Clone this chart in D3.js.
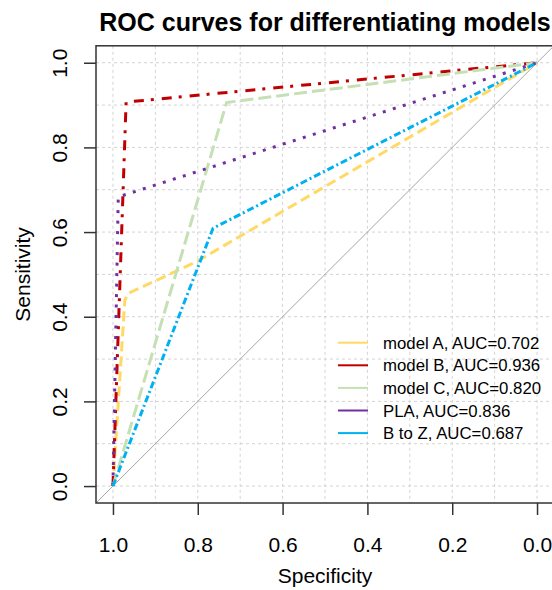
<!DOCTYPE html>
<html>
  <head>
    <script src="https://d3js.org/d3.v7.min.js"></script>
    <style>
      body { margin: 0; background: #fff; }
      text { font-family: "Liberation Sans", Arial, sans-serif; fill: #000; }
    </style>
  </head>
  <body>
    <div id="chart"></div>
    <script>
      // model names, AUCs and colours as printed in the legend
      const models = ['model A', 'model B', 'model C', 'PLA', 'B to Z'];
      const aucs = [0.702, 0.936, 0.820, 0.836, 0.687];
      const colors = ['#FFD966', '#C00000', '#C5E0B4', '#7030A0', '#00B0F0'];
      const dashes = ['10,5', '10,7,3,8', '13,5', '3,7.5', '7,3,2,3'];

      // ROC points: [specificity, sensitivity]
      const rocA = [[1, 0], [0.972, 0.439], [0.964, 0.455], [0.803, 0.530], [0, 1]];
      const rocB = [[1, 0], [0.969, 0.907], [0, 1]];
      const rocC = [[1, 0], [0.732, 0.906], [0, 1]];
      const rocPLA = [[1, 0], [0.9875, 0.683], [0, 1]];
      const rocBZ = [[1, 0], [0.764, 0.609], [0, 1]];
      const curves = [rocA, rocB, rocC, rocPLA, rocBZ];

      const ticks = [1.0, 0.8, 0.6, 0.4, 0.2, 0.0];
      const gridTicks = d3.range(0, 11).map(d => d / 10);

      const width = 552, height = 590;
      const mLeft = 96, mRight = 554, mTop = 45.8, mBottom = 503;

      const svg = d3.select('#chart').append('svg')
        .attr('width', width)
        .attr('height', height);

      const x = d3.scaleLinear().domain([1.04, -0.04]).range([mLeft, mRight]);
      const y = d3.scaleLinear().domain([-0.04, 1.04]).range([mBottom, mTop]);

      svg.append('clipPath').attr('id', 'plotclip')
        .append('rect')
        .attr('x', mLeft).attr('y', mTop)
        .attr('width', mRight - mLeft).attr('height', mBottom - mTop);

      // dotted grid
      const grid = svg.append('g');
      grid.selectAll('.gx').data(gridTicks).join('line')
        .attr('x1', d => x(d)).attr('x2', d => x(d))
        .attr('y1', mTop).attr('y2', mBottom)
        .attr('stroke', '#d3d3d3').attr('stroke-dasharray', '3,3');
      grid.selectAll('.gy').data(gridTicks).join('line')
        .attr('x1', mLeft).attr('x2', mRight)
        .attr('y1', d => y(d)).attr('y2', d => y(d))
        .attr('stroke', '#d3d3d3').attr('stroke-dasharray', '3,3');

      // reference diagonal
      svg.append('line')
        .attr('clip-path', 'url(#plotclip)')
        .attr('x1', x(1.04)).attr('y1', y(-0.04))
        .attr('x2', x(-0.04)).attr('y2', y(1.04))
        .attr('stroke', '#a6a6a6').attr('stroke-width', 1);

      const line = d3.line().x(d => x(d[0])).y(d => y(d[1]));

      svg.append('g').selectAll('path').data(curves).join('path')
        .attr('d', line)
        .attr('fill', 'none')
        .attr('stroke', (d, i) => colors[i])
        .attr('stroke-width', 3)
        .attr('stroke-dasharray', (d, i) => dashes[i]);

      // box
      svg.append('rect')
        .attr('x', mLeft).attr('y', mTop)
        .attr('width', mRight - mLeft).attr('height', mBottom - mTop)
        .attr('fill', 'none').attr('stroke', '#333').attr('stroke-width', 1.5);

      // axes
      const xAxis = svg.append('g').attr('transform', `translate(0,${mBottom})`)
        .call(d3.axisBottom(x).tickValues(ticks).tickSize(12).tickFormat(d3.format('.1f')));
      const yAxis = svg.append('g').attr('transform', `translate(${mLeft},0)`)
        .call(d3.axisLeft(y).tickValues(ticks).tickSize(12).tickFormat(d3.format('.1f')));
      [xAxis, yAxis].forEach(g => {
        g.select('.domain').remove();
        g.selectAll('.tick line').attr('stroke', '#333').attr('stroke-width', 1.5);
        g.selectAll('text').attr('font-size', 21).attr('fill', '#000');
      });
      xAxis.selectAll('text').attr('y', 0).attr('dy', null)
        .attr('transform', 'translate(0,49)');
      yAxis.selectAll('text')
        .attr('x', 0).attr('dy', null)
        .attr('text-anchor', 'middle')
        .attr('transform', 'translate(-29.5,0) rotate(-90)');

      svg.append('text')
        .attr('x', (mLeft + mRight) / 2).attr('y', 583)
        .attr('text-anchor', 'middle').attr('font-size', 21)
        .text('Specificity');
      svg.append('text')
        .attr('transform', `translate(30,${(mTop + mBottom) / 2}) rotate(-90)`)
        .attr('text-anchor', 'middle').attr('font-size', 21)
        .text('Sensitivity');

      svg.append('text')
        .attr('x', (mLeft + mRight) / 2).attr('y', 31)
        .attr('text-anchor', 'middle').attr('font-size', 25).attr('font-weight', 'bold')
        .text('ROC curves for differentiating models');

      // legend
      const legend = svg.append('g').selectAll('g').data(models).join('g')
        .attr('transform', (d, i) => `translate(338,${342.7 + i * 22.6})`);
      legend.append('line')
        .attr('x1', 0).attr('x2', 30)
        .attr('stroke', (d, i) => colors[i]).attr('stroke-width', 2);
      legend.append('text')
        .attr('x', 45).attr('y', 6)
        .attr('font-size', 16.8)
        .text((d, i) => `${d}, AUC=${aucs[i].toFixed(3)}`);
    </script>
  </body>
</html>
